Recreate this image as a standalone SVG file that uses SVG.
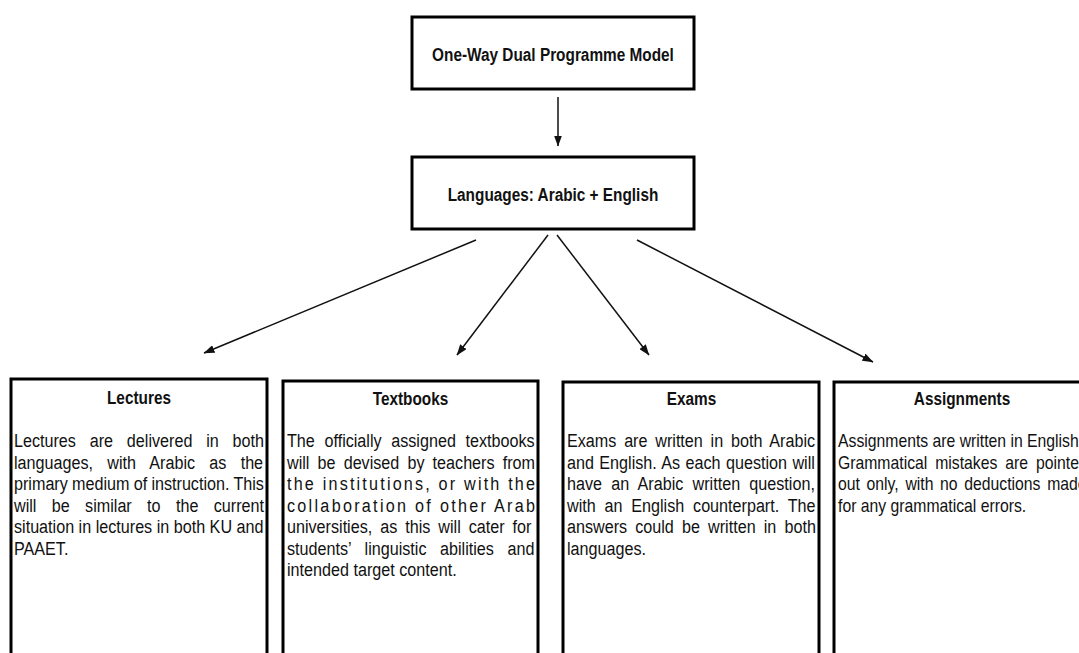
<svg xmlns="http://www.w3.org/2000/svg" width="1079" height="653" viewBox="0 0 1079 653">
<style>
  .box { fill: #fff; stroke: #000; stroke-width: 3; }
  .title { font-family: "Liberation Sans", Arial, sans-serif; font-weight: bold; font-size: 18.5px; fill: #111; text-anchor: middle; }
  .body { font-family: "Liberation Sans", Arial, sans-serif; font-size: 19px; fill: #111; }
  .conn { stroke: #111; stroke-width: 1.5; fill: none; marker-end: url(#ah); }
</style>
<defs>
  <marker id="ah" markerUnits="userSpaceOnUse" markerWidth="11" markerHeight="8" refX="10.5" refY="4" orient="auto">
    <path d="M0,0 L11,4 L0,8 z" fill="#111"/>
  </marker>
</defs>
<rect width="1079" height="653" fill="#fff"/>

<g id="connectors">
  <line class="conn" x1="558" y1="97" x2="558" y2="146"/>
  <line class="conn" x1="476" y1="240" x2="204" y2="353"/>
  <line class="conn" x1="548" y1="235" x2="457" y2="355"/>
  <line class="conn" x1="557" y1="235" x2="649" y2="355"/>
  <line class="conn" x1="637" y1="240" x2="873" y2="362"/>
</g>

<g id="model">
  <rect class="box" x="412" y="17" width="282" height="72"/>
  <text class="title" transform="translate(553,61) scale(0.83,1)">One-Way Dual Programme Model</text>
</g>

<g id="languages">
  <rect class="box" x="412" y="157" width="282" height="72"/>
  <text class="title" transform="translate(553,201) scale(0.83,1)">Languages: Arabic + English</text>
</g>

<g id="lectures">
  <rect class="box" x="11" y="379" width="256" height="320"/>
  <text class="title" transform="translate(139,404) scale(0.83,1)">Lectures</text>
  <text class="body" transform="translate(14,447) scale(0.85,1)" word-spacing="10.97">Lectures are delivered in both</text>
  <text class="body" transform="translate(14,468.5) scale(0.85,1)" word-spacing="11.5">languages, with Arabic as the</text>
  <text class="body" transform="translate(14,490) scale(0.85,1)" word-spacing="-0.3">primary medium of instruction. This</text>
  <text class="body" transform="translate(14,511.5) scale(0.85,1)" word-spacing="12.8">will be similar to the current</text>
  <text class="body" transform="translate(14,533) scale(0.85,1)">situation in lectures in both KU and</text>
  <text class="body" transform="translate(14,554.5) scale(0.85,1)">PAAET.</text>
</g>

<g id="textbooks">
  <rect class="box" x="283" y="381" width="255" height="320"/>
  <text class="title" transform="translate(410.5,405) scale(0.83,1)">Textbooks</text>
  <text class="body" transform="translate(287,447) scale(0.85,1)" word-spacing="6.08">The officially assigned textbooks</text>
  <text class="body" transform="translate(287,468.5) scale(0.85,1)" word-spacing="4.3">will be devised by teachers from</text>
  <text class="body" transform="translate(287,490) scale(0.85,1)" textLength="291.8" lengthAdjust="spacing">the institutions, or with the</text>
  <text class="body" transform="translate(287,511.5) scale(0.85,1)" textLength="291.8" lengthAdjust="spacing">collaboration of other Arab</text>
  <text class="body" transform="translate(287,533) scale(0.85,1)" word-spacing="4.1">universities, as this will cater for</text>
  <text class="body" transform="translate(287,554.5) scale(0.85,1)" word-spacing="10.7">students’ linguistic abilities and</text>
  <text class="body" transform="translate(287,576) scale(0.85,1)">intended target content.</text>
</g>

<g id="exams">
  <rect class="box" x="563" y="382" width="256" height="320"/>
  <text class="title" transform="translate(691.5,405) scale(0.83,1)">Exams</text>
  <text class="body" transform="translate(567,447) scale(0.85,1)" word-spacing="3.9">Exams are written in both Arabic</text>
  <text class="body" transform="translate(567,468.5) scale(0.85,1)" word-spacing="1.1">and English. As each question will</text>
  <text class="body" transform="translate(567,490) scale(0.85,1)" word-spacing="5.6">have an Arabic written question,</text>
  <text class="body" transform="translate(567,511.5) scale(0.85,1)" word-spacing="5.1">with an English counterpart. The</text>
  <text class="body" transform="translate(567,533) scale(0.85,1)" word-spacing="4.3">answers could be written in both</text>
  <text class="body" transform="translate(567,554.5) scale(0.85,1)">languages.</text>
</g>

<g id="assignments">
  <rect class="box" x="834" y="382" width="256" height="320"/>
  <text class="title" transform="translate(962,405) scale(0.83,1)">Assignments</text>
  <text class="body" transform="translate(838,447) scale(0.83,1)">Assignments are written in English.</text>
  <text class="body" transform="translate(838,468.5) scale(0.83,1)" word-spacing="4.3">Grammatical mistakes are pointed</text>
  <text class="body" transform="translate(838,490) scale(0.83,1)" word-spacing="2.8">out only, with no deductions made</text>
  <text class="body" transform="translate(838,511.5) scale(0.83,1)">for any grammatical errors.</text>
</g>
</svg>
